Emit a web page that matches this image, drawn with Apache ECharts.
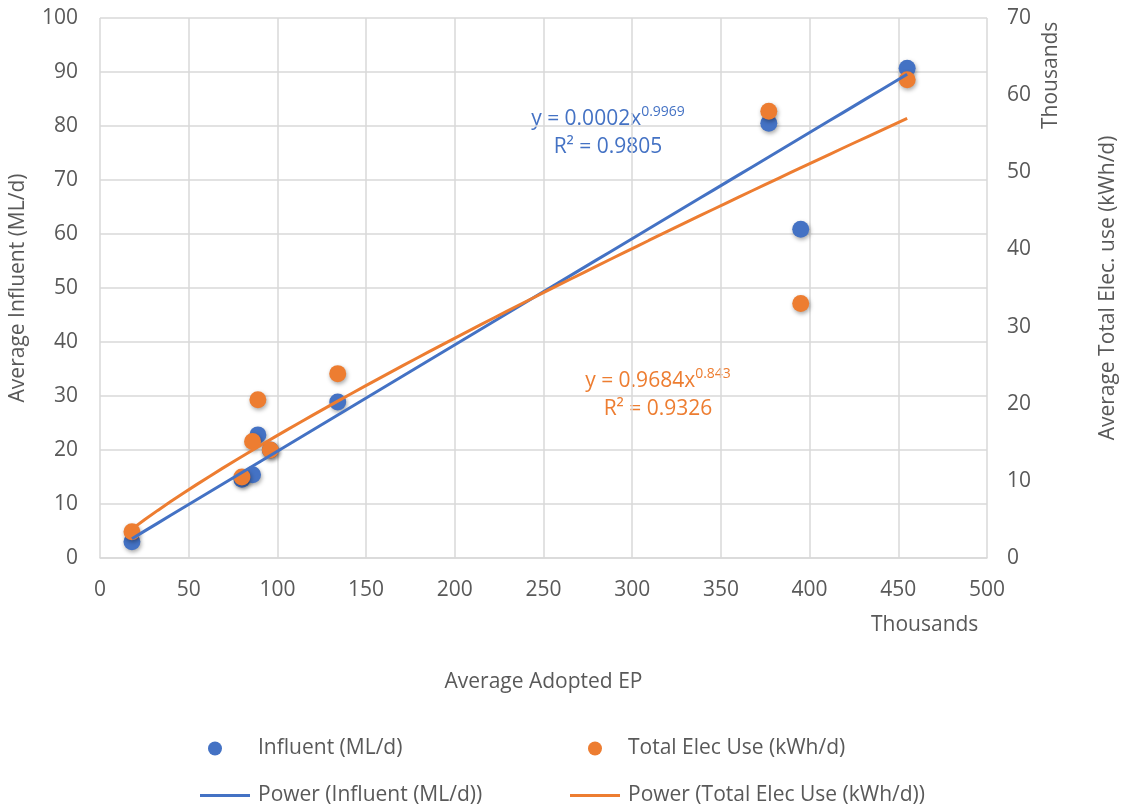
<!DOCTYPE html>
<html>
<head>
<meta charset="utf-8">
<script src="https://cdn.jsdelivr.net/npm/echarts@6/dist/echarts.min.js"></script>
<style>
  html, body { margin: 0; padding: 0; background: #fff; }
  #container { width: 1128px; height: 808px; }
</style>
</head>
<body>
<div id="container"></div>
<script>
// average adopted EP, in thousands
var epK = [18, 80, 86, 89, 96, 134, 377, 395, 455];
// average influent, ML/d (left axis)
var influent = [3.0, 14.6, 15.4, 22.8, 20.0, 28.9, 80.5, 60.9, 90.7];
// average total elec use, thousands of kWh/d (right axis)
var elecK = [3.4, 10.5, 15.1, 20.5, 14.0, 23.9, 57.9, 33.0, 62.0];

// power trendlines y = a * x^b (x in EP); the label rounds a to 0.0002
var fitInfluent = [0.000205, 0.9969];
var fitElec = [0.9684, 0.843];

var xTicks = [0, 50, 100, 150, 200, 250, 300, 350, 400, 450, 500];

var blue = '#4472C4';
var orange = '#ED7D31';
var grey = '#595959';
var font = 'Open Sans';
var fs = 21;

function pairs(xs, ys) {
  return xs.map(function (x, i) { return [x, ys[i]]; });
}

function trend(fit, scale) {
  var lo = Math.min.apply(null, epK), hi = Math.max.apply(null, epK);
  var pts = [];
  for (var i = 0; i <= 60; i++) {
    var x = lo + (hi - lo) * i / 60;
    pts.push([x, fit[0] * Math.pow(x * 1000, fit[1]) / scale]);
  }
  return pts;
}

var shadow = {
  opacity: 1,
  shadowBlur: 4,
  shadowOffsetX: 1,
  shadowOffsetY: 2,
  shadowColor: 'rgba(0,0,0,0.35)'
};

var dom = document.getElementById('container');
var myChart = echarts.init(dom, null, { renderer: 'canvas' });

var option = {
  animation: false,
  textStyle: { fontFamily: font },
  grid: { left: 100, top: 18, width: 887, height: 540, containLabel: false },
  xAxis: {
    type: 'value',
    min: 0, max: 500, interval: 50,
    name: 'Average Adopted EP',
    nameLocation: 'middle',
    nameGap: 114,
    nameTextStyle: { color: grey, fontSize: fs, fontFamily: font },
    axisLine: { show: true, lineStyle: { color: '#d9d9d9', width: 1.5 } },
    axisTick: { show: false },
    axisLabel: { color: grey, fontSize: fs, margin: 22, fontFamily: font },
    splitLine: { show: true, lineStyle: { color: '#d9d9d9', width: 1.5 } }
  },
  yAxis: [
    {
      type: 'value',
      min: 0, max: 100, interval: 10,
      name: 'Average Influent (ML/d)',
      nameLocation: 'middle',
      nameRotate: 90,
      nameGap: 71,
      nameTextStyle: { color: grey, fontSize: fs, fontFamily: font },
      axisLine: { show: false },
      axisTick: { show: false },
      axisLabel: { color: grey, fontSize: fs, margin: 22, fontFamily: font },
      splitLine: { show: true, lineStyle: { color: '#d9d9d9', width: 1.5 } }
    },
    {
      type: 'value',
      position: 'right',
      min: 0, max: 70, interval: 10,
      name: 'Average Total Elec. use (kWh/d)',
      nameLocation: 'middle',
      nameRotate: 90,
      nameGap: 111,
      nameTextStyle: { color: grey, fontSize: fs, fontFamily: font },
      axisLine: { show: false },
      axisTick: { show: false },
      axisLabel: { color: grey, fontSize: fs, margin: 20, fontFamily: font },
      splitLine: { show: false }
    }
  ],
  legend: [
    { data: ['Influent (ML/d)'], left: 208, top: 738, padding: 0, icon: 'circle', itemWidth: 14, itemHeight: 14,
      textStyle: { color: grey, fontSize: fs, padding: [0, 0, 0, 31] } },
    { data: ['Total Elec Use (kWh/d)'], left: 588, top: 738, padding: 0, icon: 'circle', itemWidth: 14, itemHeight: 14,
      textStyle: { color: grey, fontSize: fs, padding: [0, 0, 0, 21] } },
    { data: ['Power (Influent (ML/d))'], left: 200, top: 785, padding: 0, icon: 'rect', itemWidth: 50, itemHeight: 3,
      textStyle: { color: grey, fontSize: fs, padding: [0, 0, 0, 3] } },
    { data: ['Power (Total Elec Use (kWh/d))'], left: 570, top: 785, padding: 0, icon: 'rect', itemWidth: 50, itemHeight: 3,
      textStyle: { color: grey, fontSize: fs, padding: [0, 0, 0, 3] } }
  ],
  graphic: [
    { type: 'text', left: 871, top: 615,
      style: { text: 'Thousands', fill: grey, font: fs + 'px "Open Sans"' } },
    { type: 'text', x: 1041, y: 129, rotation: Math.PI / 2,
      style: { text: 'Thousands', fill: grey, font: fs + 'px "Open Sans"' } },
    { type: 'text', x: 608, y: 105,
      style: {
        text: '{m|y = 0.0002x}{s|0.9969}\n{m|R² = 0.9805}',
        align: 'center', fill: blue,
        rich: {
          m: { fontSize: fs, fontFamily: font, fill: blue, lineHeight: 28 },
          s: { fontSize: 14, fontFamily: font, fill: blue, verticalAlign: 'top', lineHeight: 14 }
        }
      } },
    { type: 'text', x: 658, y: 367,
      style: {
        text: '{m|y = 0.9684x}{s|0.843}\n{m|R² = 0.9326}',
        align: 'center', fill: orange,
        rich: {
          m: { fontSize: fs, fontFamily: font, fill: orange, lineHeight: 28 },
          s: { fontSize: 14, fontFamily: font, fill: orange, verticalAlign: 'top', lineHeight: 14 }
        }
      } }
  ],
  series: [
    {
      name: 'Influent (ML/d)',
      type: 'scatter',
      yAxisIndex: 0,
      symbolSize: 17,
      itemStyle: Object.assign({ color: blue }, shadow),
      data: pairs(epK, influent),
      z: 2
    },
    {
      name: 'Total Elec Use (kWh/d)',
      type: 'scatter',
      yAxisIndex: 1,
      symbolSize: 17,
      itemStyle: Object.assign({ color: orange }, shadow),
      data: pairs(epK, elecK),
      z: 3
    },
    {
      name: 'Power (Influent (ML/d))',
      type: 'line',
      yAxisIndex: 0,
      showSymbol: false,
      lineStyle: { color: blue, width: 3 },
      itemStyle: { color: blue },
      data: trend(fitInfluent, 1),
      z: 4
    },
    {
      name: 'Power (Total Elec Use (kWh/d))',
      type: 'line',
      yAxisIndex: 1,
      showSymbol: false,
      lineStyle: { color: orange, width: 3 },
      itemStyle: { color: orange },
      data: trend(fitElec, 1000),
      z: 5
    }
  ]
};

myChart.setOption(option);
window.addEventListener('resize', myChart.resize);
</script>
</body>
</html>
